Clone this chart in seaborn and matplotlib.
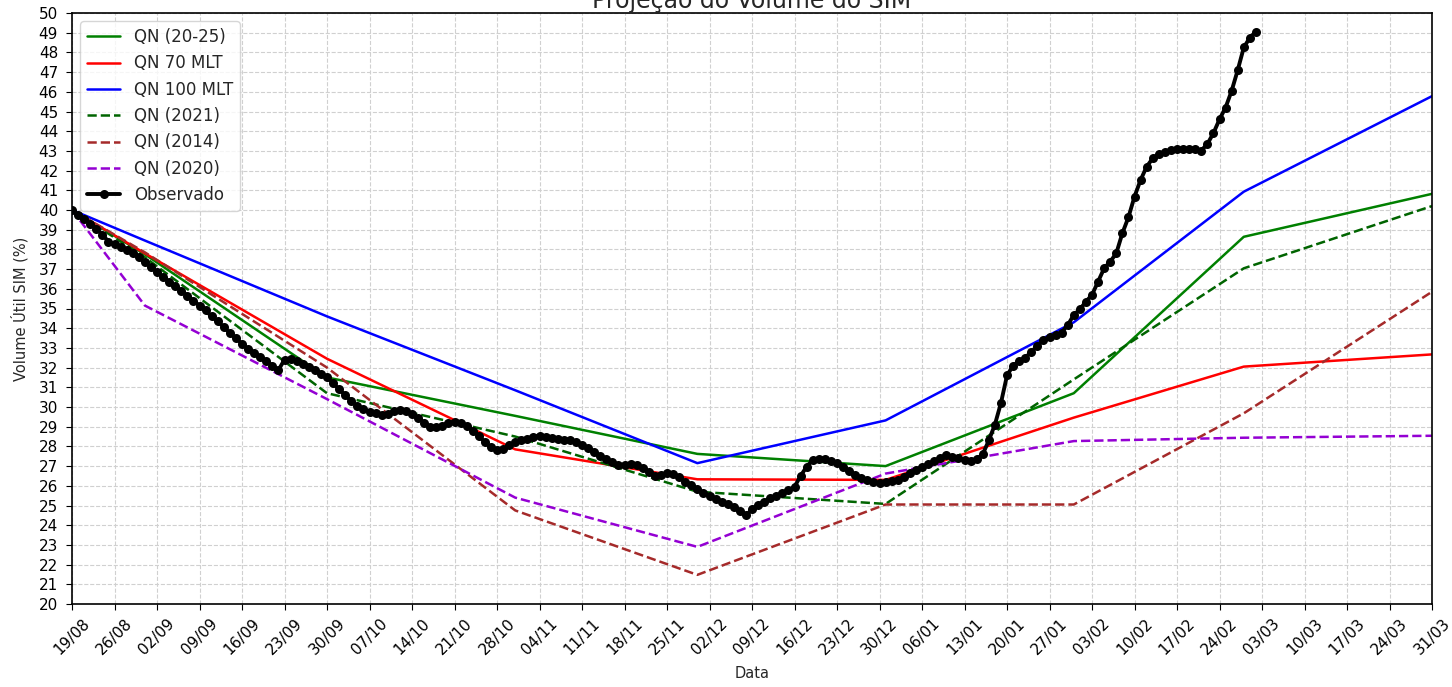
import matplotlib
matplotlib.use("Agg")
import matplotlib.pyplot as plt
import matplotlib.dates as mdates
import numpy as np
import pandas as pd
import seaborn as sns

# Projection checkpoints (end of each month)
proj_dates = pd.to_datetime([
    "2024-08-19", "2024-08-31", "2024-09-30", "2024-10-31", "2024-11-30",
    "2024-12-31", "2025-01-31", "2025-02-28", "2025-03-31",
])

qn_20_25 = [40.0, 37.75, 31.5, 29.55, 27.62, 27.0, 30.7, 38.64, 40.82]
qn_70_mlt = [40.0, 37.8, 32.45, 27.85, 26.33, 26.3, 29.46, 32.05, 32.67]
qn_100_mlt = [40.0, 38.45, 34.6, 30.85, 27.15, 29.32, 34.3, 40.93, 45.78]
qn_2021 = [40.0, 37.6, 30.7, 28.5, 25.7, 25.08, 31.4, 37.04, 40.2]
qn_2014 = [40.0, 37.85, 32.0, 24.75, 21.48, 25.05, 25.05, 29.68, 35.85]
qn_2020 = [40.0, 35.15, 30.4, 25.4, 22.9, 26.62, 28.27, 28.44, 28.54]

# Daily observed storage, starting 19/08/2024
obs_start = "2024-08-19"
observado = [
    40.0, 39.75, 39.55, 39.3, 39.05, 38.75, 38.4, 38.25, 38.1, 37.95,
    37.8, 37.6, 37.35, 37.1, 36.85, 36.6, 36.35, 36.15, 35.9, 35.65,
    35.4, 35.15, 34.9, 34.6, 34.35, 34.05, 33.75, 33.5, 33.2, 32.95,
    32.75, 32.55, 32.35, 32.1, 31.88, 32.4, 32.45, 32.35, 32.2, 32.05,
    31.9, 31.7, 31.5, 31.2, 30.9, 30.6, 30.3, 30.05, 29.9, 29.75,
    29.7, 29.6, 29.65, 29.8, 29.85, 29.8, 29.65, 29.45, 29.2, 29.0,
    28.98, 29.05, 29.2, 29.25, 29.2, 29.05, 28.8, 28.55, 28.2, 27.95,
    27.8, 27.85, 28.05, 28.2, 28.3, 28.4, 28.5, 28.55, 28.5, 28.42,
    28.4, 28.35, 28.32, 28.2, 28.05, 27.9, 27.7, 27.5, 27.35, 27.2,
    27.08, 27.05, 27.12, 27.05, 26.9, 26.7, 26.5, 26.55, 26.65, 26.6,
    26.45, 26.2, 26.02, 25.85, 25.65, 25.47, 25.35, 25.2, 25.08, 24.9,
    24.7, 24.5, 24.8, 25.05, 25.2, 25.36, 25.5, 25.62, 25.78, 25.95,
    26.5, 26.97, 27.3, 27.38, 27.36, 27.25, 27.14, 26.95, 26.75, 26.55,
    26.4, 26.3, 26.18, 26.13, 26.18, 26.22, 26.27, 26.45, 26.64, 26.8,
    26.95, 27.1, 27.25, 27.4, 27.56, 27.48, 27.4, 27.32, 27.28, 27.35,
    27.6, 28.3, 29.1, 30.2, 31.6, 32.1, 32.33, 32.5, 32.8, 33.1,
    33.4, 33.55, 33.65, 33.78, 34.16, 34.67, 34.96, 35.35, 35.69, 36.36,
    37.04, 37.38, 37.8, 38.82, 39.63, 40.68, 41.52, 42.2, 42.62, 42.84,
    42.96, 43.05, 43.08, 43.1, 43.1, 43.1, 43.02, 43.35, 43.9, 44.6,
    45.2, 46.05, 47.1, 48.25, 48.75, 49.05,
]
obs_dates = pd.date_range(obs_start, periods=len(observado), freq="D")

series = [
    ("QN (20-25)", qn_20_25, "green", "-"),
    ("QN 70 MLT", qn_70_mlt, "red", "-"),
    ("QN 100 MLT", qn_100_mlt, "blue", "-"),
    ("QN (2021)", qn_2021, "darkgreen", "--"),
    ("QN (2014)", qn_2014, "brown", "--"),
    ("QN (2020)", qn_2020, "darkviolet", "--"),
]

sns.set_style("ticks")
plt.rcParams["font.family"] = ["DejaVu Sans"]

fig = plt.figure(figsize=(14.52, 6.87), dpi=100)
ax = fig.add_axes([72 / 1452, 1 - 604 / 687, 1360 / 1452, 591 / 687])

for name, vals, color, ls in series:
    df = pd.DataFrame({"Data": proj_dates, "Volume": vals})
    sns.lineplot(data=df, x="Data", y="Volume", ax=ax, color=color,
                 linestyle=ls, linewidth=1.8, label=name)

obs_df = pd.DataFrame({"Data": obs_dates, "Volume": observado})
sns.lineplot(data=obs_df, x="Data", y="Volume", ax=ax, color="black",
             linewidth=2.8, marker="o", markersize=6.5, markeredgewidth=0,
             label="Observado")

ticks = pd.date_range("2024-08-19", "2025-03-31", freq="7D")
ax.set_xticks(ticks)
ax.xaxis.set_major_formatter(mdates.DateFormatter("%d/%m"))
ax.set_xlim(pd.Timestamp("2024-08-19"), pd.Timestamp("2025-03-31"))

ax.set_ylim(20, 50)
ax.set_yticks(np.arange(20, 51, 1))

ax.grid(True, linestyle="--", color="#d0d0d0", linewidth=0.8)
for s in ax.spines.values():
    s.set_color("black")
    s.set_linewidth(1.2)
ax.tick_params(axis="y", colors="black", labelsize=11, length=4.5, pad=5.5)
ax.tick_params(axis="x", colors="black", labelsize=11, length=4.5, pad=4,
               labelrotation=45)

ax.set_xlabel("Data", fontsize=10.5, labelpad=6)
ax.set_ylabel("Volume Útil SIM (%)", fontsize=10.5, labelpad=7)
ax.set_title("Projeção do Volume do SIM", fontsize=17, pad=3.5)

ax.legend(loc="upper left", fontsize=12, frameon=True)

fig.savefig("out.png", dpi=100)
